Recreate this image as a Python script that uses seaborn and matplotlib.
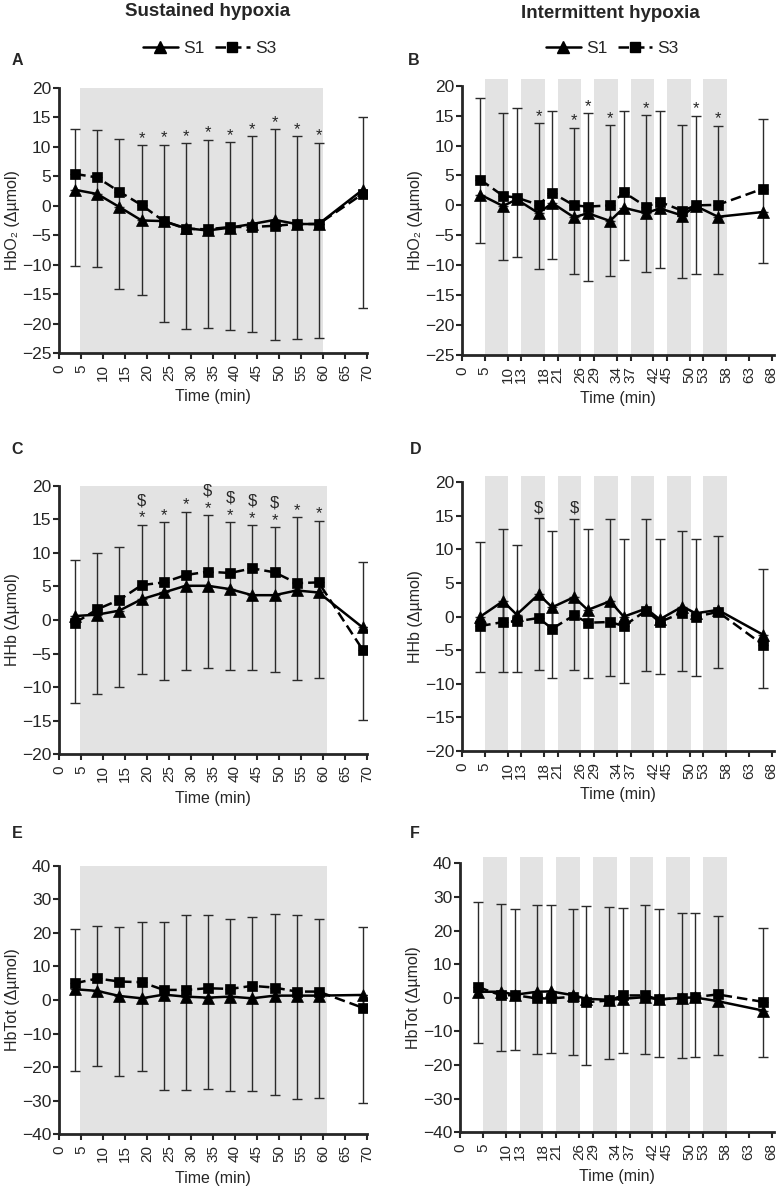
import matplotlib
matplotlib.use("Agg")
import matplotlib.pyplot as plt
from matplotlib.lines import Line2D
import seaborn as sns

sns.set_style("ticks")
plt.rcParams["font.family"] = ["Liberation Sans", "DejaVu Sans"]

# time points (min)
t_sus = [3.7, 8.7, 13.7, 18.8, 23.8, 28.8, 33.8, 38.9, 43.9, 49.0, 54.0, 59.0, 69.0]
t_int = [4.0, 9.0, 12.0, 16.8, 19.8, 24.6, 27.6, 32.5, 35.5, 40.4, 43.4, 48.4, 51.3, 56.2, 66.1]
hyp_on = [5, 13, 21, 29, 37, 45, 53]
hyp_off = [10, 18, 26, 34, 42, 50, 58]

# A - HbO2 sustained
a_s1 = [2.7, 2.0, -0.2, -2.5, -2.6, -3.8, -4.2, -3.7, -3.1, -2.4, -3.1, -3.1, 2.7]
a_s3 = [5.4, 4.8, 2.4, 0.1, -2.6, -3.9, -4.0, -3.6, -3.6, -3.4, -3.1, -3.1, 2.0]
a_top = [13.0, 12.9, 11.4, 10.3, 10.4, 10.6, 11.2, 10.8, 11.8, 13.0, 11.8, 10.7, 15.0]
a_bot = [-10.2, -10.4, -14.2, -15.2, -19.8, -21.0, -20.8, -21.1, -21.5, -22.8, -22.7, -22.5, -17.4]
a_star = [3, 4, 5, 6, 7, 8, 9, 10, 11]

# B - HbO2 intermittent
b_s1 = [1.8, -0.1, 1.0, -1.3, 0.4, -2.0, -1.3, -2.6, -0.4, -1.3, -0.5, -1.7, -0.1, -1.9, -1.1]
b_s3 = [4.3, 1.6, 1.3, 0.1, 2.1, 0.0, -0.2, 0.0, 2.2, -0.2, 0.6, -0.9, 0.0, 0.1, 2.8]
b_top = [18.0, 15.4, 16.3, 13.7, 15.7, 13.0, 15.4, 13.4, 15.8, 15.1, 15.8, 13.5, 15.0, 13.3, 14.4]
b_bot = [-6.2, -9.1, -8.6, -10.6, -9.0, -11.4, -12.7, -11.8, -9.1, -11.2, -10.4, -12.2, -11.4, -11.5, -9.7]
b_star = [3, 5, 6, 7, 9, 12, 13]

# C - HHb sustained
c_s1 = [0.6, 0.8, 1.4, 3.1, 4.1, 5.1, 5.1, 4.6, 3.7, 3.7, 4.4, 4.1, -1.1]
c_s3 = [-0.4, 1.6, 3.0, 5.2, 5.6, 6.7, 7.2, 7.0, 7.7, 7.1, 5.5, 5.6, -4.4]
c_top = [9.0, 10.0, 10.9, 14.2, 14.6, 16.1, 15.6, 14.6, 14.1, 13.8, 15.3, 14.8, 8.6]
c_bot = [-12.3, -11.0, -9.9, -8.0, -9.0, -7.5, -7.2, -7.5, -7.5, -7.7, -8.9, -8.6, -14.9]
c_star = [3, 4, 5, 6, 7, 8, 9, 10, 11]
c_dollar = [3, 6, 7, 8, 9]

# D - HHb intermittent
d_s1 = [0.0, 2.3, 0.3, 3.3, 1.4, 2.9, 1.0, 2.3, 0.0, 1.2, -0.4, 1.5, 0.5, 1.0, -2.7]
d_s3 = [-1.4, -0.8, -0.7, -0.2, -1.8, 0.2, -0.9, -0.8, -1.4, 0.9, -0.8, 0.6, 0.0, 0.7, -4.2]
d_top = [11.1, 13.1, 10.6, 14.7, 12.7, 14.6, 13.1, 14.6, 11.6, 14.6, 11.6, 12.7, 11.6, 12.0, 7.1]
d_bot = [-8.2, -8.2, -8.3, -7.9, -9.2, -7.9, -9.2, -8.8, -9.9, -8.1, -8.5, -8.1, -8.9, -7.6, -10.6]
d_dollar = [3, 5]

# E - HbTot sustained
e_s1 = [3.2, 2.7, 1.2, 0.5, 1.6, 1.0, 0.7, 1.0, 0.5, 1.3, 1.3, 1.3, 1.5]
e_s3 = [5.0, 6.4, 5.5, 5.3, 3.0, 3.0, 3.5, 3.3, 4.2, 3.7, 2.5, 2.5, -2.3]
e_top = [21.0, 22.1, 21.6, 23.3, 23.2, 25.3, 25.3, 24.2, 24.6, 25.6, 25.3, 24.0, 21.6]
e_bot = [-21.0, -19.6, -22.6, -21.0, -26.8, -26.8, -26.6, -27.1, -27.0, -28.4, -29.5, -29.3, -30.8]

# F - HbTot intermittent
f_s1 = [1.8, 1.8, 0.9, 1.8, 1.9, 0.8, -0.3, -0.6, -0.3, 0.2, -0.5, 0.0, 0.1, -1.0, -3.8]
f_s3 = [3.2, 0.7, 0.8, -0.2, -0.2, 0.3, -1.3, -0.8, 0.7, 0.7, -0.5, 0.0, 0.2, 1.0, -1.2]
f_top = [28.4, 27.9, 26.4, 27.5, 27.5, 26.4, 27.2, 26.9, 26.6, 27.7, 26.4, 25.2, 25.2, 24.4, 20.8]
f_bot = [-13.5, -15.8, -15.5, -16.6, -16.5, -17.1, -20.0, -18.3, -16.5, -16.8, -17.5, -17.8, -17.5, -17.1, -17.6]

sus_ticks = list(range(0, 75, 5))
int_ticks = [0, 5, 10, 13, 18, 21, 26, 29, 34, 37, 42, 45, 50, 53, 58, 63, 68]

SHADE = "#e3e3e3"
DASH = (0, (4.2, 2.0))

fig = plt.figure(figsize=(7.82, 11.87), dpi=100)


def draw_panel(rect, t, s1, s3, top, bot, ylim, ystep, ylabel, sustained,
               shade_end=60, stars=(), dollars=()):
    ax = fig.add_axes(rect)
    if sustained:
        ax.axvspan(4.7, shade_end, color=SHADE, lw=0, zorder=0)
        ax.set_xlim(0, 70)
        ax.set_xticks(sus_ticks)
    else:
        for on, off in zip(hyp_on, hyp_off):
            sp = ax.axvspan(on, off + 0.2, ymin=0, ymax=1.025, color=SHADE, lw=0, zorder=0)
            sp.set_clip_on(False)
        ax.set_xlim(0, 68.5)
        ax.set_xticks(int_ticks)

    # error bars: S3 upward, S1 downward
    up = [hi - y for hi, y in zip(top, s3)]
    dn = [y - lo for lo, y in zip(bot, s1)]
    ax.errorbar(t, s3, yerr=[[0] * len(t), up], fmt="none", ecolor="#2b2b2b",
                elinewidth=1.0, capsize=3.5, capthick=1.0, zorder=2)
    ax.errorbar(t, s1, yerr=[dn, [0] * len(t)], fmt="none", ecolor="#2b2b2b",
                elinewidth=1.0, capsize=3.5, capthick=1.0, zorder=2)
    # connect the two halves through the middle
    ax.vlines(t, [min(a, b) for a, b in zip(s1, s3)], [max(a, b) for a, b in zip(s1, s3)],
              color="#2b2b2b", lw=1.0, zorder=2)

    sns.lineplot(x=t, y=s3, ax=ax, color="black", linestyle=DASH, linewidth=1.8,
                 marker="s", markersize=7, markeredgecolor="black", markeredgewidth=0.5,
                 sort=False, zorder=4)
    sns.lineplot(x=t, y=s1, ax=ax, color="black", linewidth=1.8,
                 marker="^", markersize=8, markeredgecolor="black", markeredgewidth=0.5,
                 sort=False, zorder=5)

    for i in stars:
        ax.annotate("*", (t[i], top[i]), xytext=(0, -0.5), textcoords="offset points",
                    ha="center", va="bottom", fontsize=12)
    for i in dollars:
        off = 12 if i in stars else 2
        ax.annotate("$", (t[i], top[i]), xytext=(0, off), textcoords="offset points",
                    ha="center", va="bottom", fontsize=12)

    ax.set_ylim(*ylim)
    ax.set_yticks(range(ylim[0], ylim[1] + 1, ystep))
    sns.despine(ax=ax)
    for s in ("left", "bottom"):
        ax.spines[s].set_linewidth(2)
    ax.tick_params(axis="both", direction="out", length=4, width=1.5)
    ax.tick_params(axis="y", labelsize=12.5, pad=1.5)
    ax.tick_params(axis="x", labelsize=11, labelrotation=90, pad=4)
    ax.set_xlabel("Time (min)", fontsize=11.5, labelpad=6)
    ax.set_ylabel(ylabel, fontsize=11.5, labelpad=1)
    return ax


draw_panel([0.0754, 0.7026, 0.3939, 0.2233], t_sus, a_s1, a_s3, a_top, a_bot, (-25, 20), 5,
           "HbO₂ (Δµmol)", True, shade_end=60, stars=a_star)
draw_panel([0.5908, 0.7009, 0.3990, 0.2269], t_int, b_s1, b_s3, b_top, b_bot, (-25, 20), 5,
           "HbO₂ (Δµmol)", False, stars=b_star)
draw_panel([0.0754, 0.3645, 0.3939, 0.2263], t_sus, c_s1, c_s3, c_top, c_bot, (-20, 20), 5,
           "HHb (Δµmol)", True, shade_end=61, stars=c_star, dollars=c_dollar)
draw_panel([0.5908, 0.3673, 0.3990, 0.2264], t_int, d_s1, d_s3, d_top, d_bot, (-20, 20), 5,
           "HHb (Δµmol)", False, dollars=d_dollar)
draw_panel([0.0754, 0.0444, 0.3939, 0.2263], t_sus, e_s1, e_s3, e_top, e_bot, (-40, 40), 10,
           "HbTot (Δµmol)", True, shade_end=61)
draw_panel([0.5882, 0.0461, 0.4015, 0.2266], t_int, f_s1, f_s3, f_top, f_bot, (-40, 40), 10,
           "HbTot (Δµmol)", False)

# column titles
fig.text(0.266, 0.990, "Sustained hypoxia", ha="center", va="center", fontsize=13.5, fontweight="bold")
fig.text(0.781, 0.989, "Intermittent hypoxia", ha="center", va="center", fontsize=13.5, fontweight="bold")

# legends
handles = [
    Line2D([], [], color="black", lw=1.8, marker="^", markersize=9),
    Line2D([], [], color="black", lw=1.8, linestyle=DASH, marker="s", markersize=7),
]
for cx in (0.268, 0.783):
    fig.legend(handles, ["S1", "S3"], loc="center", bbox_to_anchor=(cx, 0.959), ncol=2,
               frameon=False, fontsize=12.5, handlelength=2.0, handletextpad=0.3, columnspacing=0.6)

# panel letters
for letter, x, y in [("A", 0.015, 0.949), ("B", 0.521, 0.949), ("C", 0.015, 0.621),
                     ("D", 0.524, 0.621), ("E", 0.015, 0.298), ("F", 0.524, 0.298)]:
    fig.text(x, y, letter, ha="left", va="center", fontsize=11.5, fontweight="bold")

fig.savefig("out.png", dpi=100)
